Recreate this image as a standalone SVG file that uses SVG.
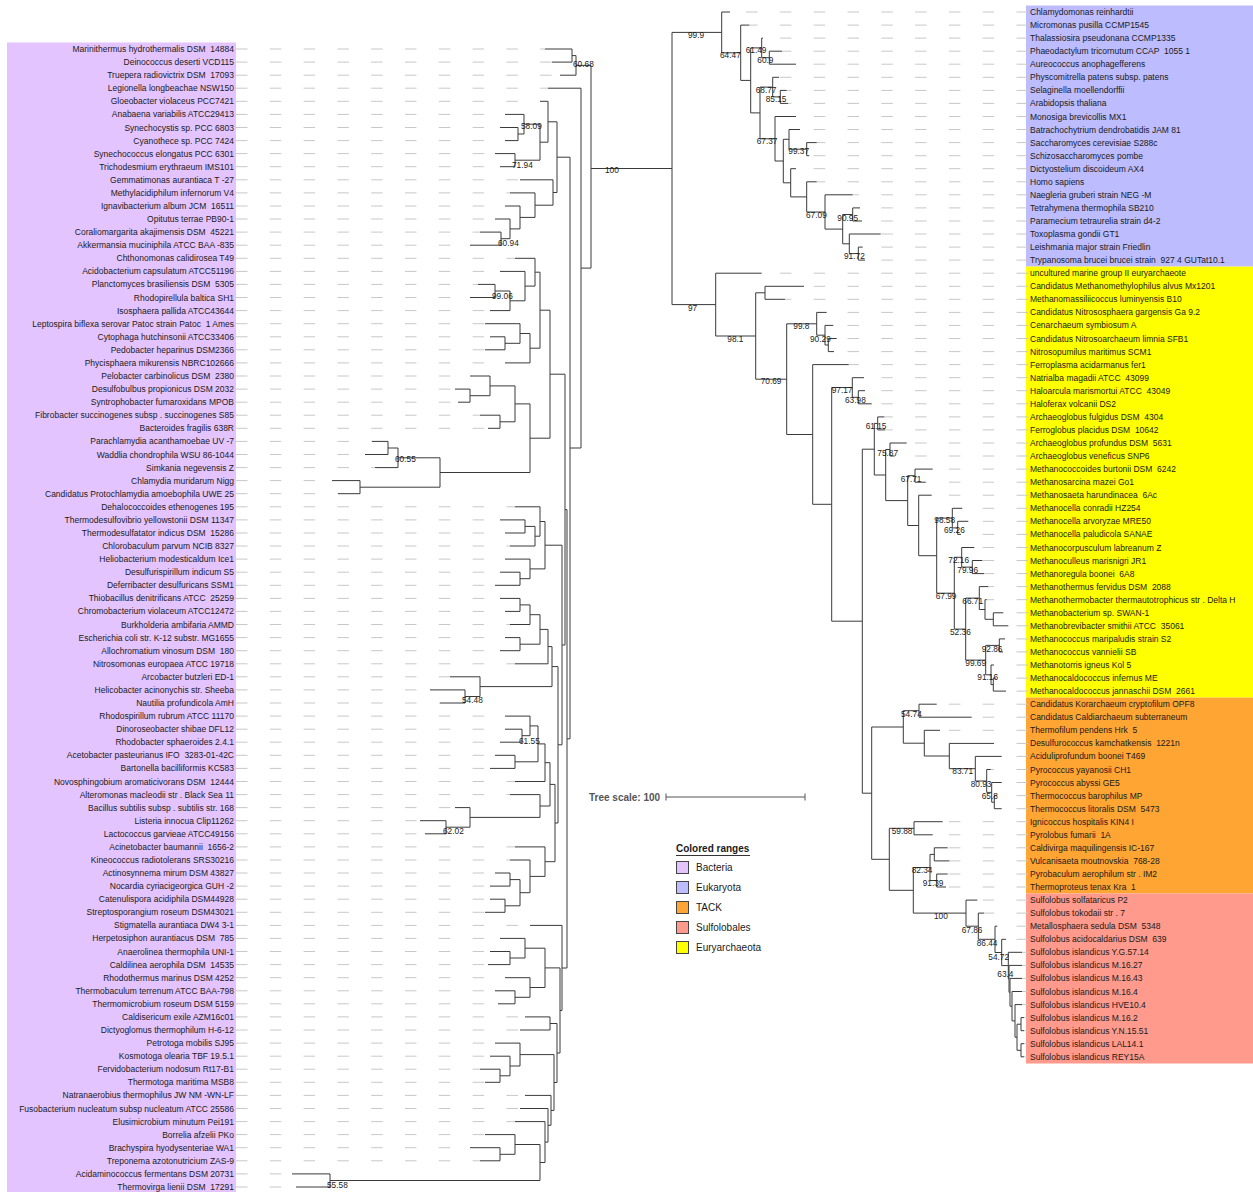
<svg xmlns="http://www.w3.org/2000/svg" width="1253" height="1192" viewBox="0 0 1253 1192">
<style>
.br{stroke:#3a3a3a;stroke-width:1;fill:none}
.ext{stroke:#c8c8c8;stroke-width:1;fill:none;stroke-dasharray:11.5 22.3}
text{font-family:"Liberation Sans",Arial,sans-serif;fill:#1a1a1a}
.lab text{font-size:8.5px;white-space:pre}
.l text{text-anchor:end}
.bs{font-size:8.3px;fill:#333}
.lg{font-size:10px}
.ttl{font-size:10px;font-weight:bold}
</style>
<rect width="1253" height="1192" fill="#fff"/>
<g id="ranges">
<rect x="7" y="42.5" width="229" height="1150" fill="#e4c4ff"/>
<rect x="1026" y="5.5" width="227" height="261.1" fill="#bcbcff"/>
<rect x="1026" y="266.6" width="227" height="431" fill="#ffff00"/>
<rect x="1026" y="697.6" width="227" height="195.9" fill="#ffa534"/>
<rect x="1026" y="893.5" width="227" height="170" fill="#ff9a8c"/>
</g>
<g id="connectors">
<path class="ext" d="M1028,12H730M1028,25.1H749.3M1028,38.1H763M1028,51.2H782M1028,64.2H796M1028,77.3H779M1028,90.4H786.7M1028,103.4H788M1028,116.5H796M1028,129.5H800M1028,142.6H816.7M1028,155.7H809.3M1028,168.7H796M1028,181.8H816.7M1028,194.8H852.7M1028,207.9H860M1028,221H862M1028,234H880.7M1028,247.1H862.7M1028,260.1H865M1028,273.2H761.7M1028,286.3H804M1028,299.3H785M1028,312.4H826.7M1028,325.4H833.3M1028,338.5H836.7M1028,351.6H834M1028,364.6H848.7M1028,377.7H864M1028,390.7H865M1028,403.8H871.7M1028,416.9H884.3M1028,429.9H885M1028,443H906.7M1028,456H894.7M1028,469.1H932.7M1028,482.2H925.7M1028,495.2H931.7M1028,508.3H962.3M1028,521.3H968.3M1028,534.4H961M1028,547.5H974.3M1028,560.5H982.3M1028,573.6H984M1028,586.6H988.3M1028,599.7H986.7M1028,612.8H1003.3M1028,625.8H1008.3M1028,638.9H1005M1028,651.9H1003M1028,665H994M1028,678.1H996M1028,691.1H1006M1028,704.2H936.7M1028,717.2H971.7M1028,730.3H940M1028,743.4H994M1028,756.4H1001.7M1028,769.5H990.7M1028,782.5H1001.7M1028,795.6H997M1028,808.7H1001.7M1028,821.7H942.7M1028,834.8H932.7M1028,847.8H947.7M1028,860.9H949.3M1028,874H947.7M1028,887H946M1028,900.1H977.3M1028,913.1H984M1028,926.2H997.3M1028,939.3H1006M1028,952.3H1022M1028,965.4H1022M1028,978.4H1022M1028,991.5H1022M1028,1004.6H1022M1028,1017.6H1024M1028,1030.7H1024M1028,1043.7H1024M1028,1056.8H1024"/>
<path class="br" d="M591,168.5H672M672,32.4V304.6M672,32.4H721.7M672,304.6H715.7
M721.7,12V52.8M721.7,12H730M721.7,52.8H740.7
M740.7,25.1V80.4M740.7,25.1H749.3M740.7,80.4H750.7
M750.7,47.9V112.9M750.7,47.9H761.7M750.7,112.9H760
M761.7,38.1V57.7M761.7,38.1H763M761.7,57.7H769.3
M769.3,51.2V64.2M769.3,51.2H782M769.3,64.2H796
M760,87.1V138.8M760,87.1H772.7M760,138.8H775
M772.7,77.3V96.9M772.7,77.3H779M772.7,96.9H780.3
M780.3,90.4V103.4M780.3,90.4H786.7M780.3,103.4H788
M775,116.5V161M775,116.5H796M775,161H783.3
M783.3,139.3V182.8M783.3,139.3H789M783.3,182.8H790.7
M789,129.5V149.2M789,129.5H800M789,149.2H806.7
M806.7,142.6V155.7M806.7,142.6H816.7M806.7,155.7H809.3
M790.7,168.7V196.9M790.7,168.7H796M790.7,196.9H806.7
M806.7,181.8V212M806.7,181.8H816.7M806.7,212H825
M825,194.8V229.1M825,194.8H852.7M825,229.1H842.7
M842.7,214.5V243.8M842.7,214.5H852.7M842.7,243.8H849.3
M852.7,207.9V221M852.7,207.9H860M852.7,221H862
M849.3,234V253.6M849.3,234H880.7M849.3,253.6H858.3
M858.3,247.1V260.1M858.3,247.1H862.7M858.3,260.1H865
M715.7,273.2V336M715.7,273.2H761.7M715.7,336H755.7
M755.7,292.8V379.2M755.7,292.8H765M755.7,379.2H786.7
M765,286.3V299.3M765,286.3H804M765,299.3H785
M786.7,323.8V434.5M786.7,323.8H816.7M786.7,434.5H812.7
M816.7,312.4V335.2M816.7,312.4H826.7M816.7,335.2H825
M825,325.4V345M825,325.4H833.3M825,345H828.3
M828.3,338.5V351.6M828.3,338.5H836.7M828.3,351.6H834
M812.7,364.6V504.3M812.7,364.6H848.7M812.7,504.3H831.7
M831.7,387.5V621.2M831.7,387.5H852.3M831.7,621.2H862.3
M852.3,377.7V397.3M852.3,377.7H864M852.3,397.3H858.3
M858.3,390.7V403.8M858.3,390.7H865M858.3,403.8H871.7
M862.3,449.2V793.2M862.3,449.2H874.3M862.3,793.2H871.7
M874.3,423.4V475M874.3,423.4H877.7M874.3,475H885.7
M877.7,416.9V429.9M877.7,416.9H884.3M877.7,429.9H885
M885.7,449.5V500.6M885.7,449.5H890M885.7,500.6H907.7
M890,443V456M890,443H906.7M890,456H894.7
M907.7,475.7V525.5M907.7,475.7H915M907.7,525.5H918.7
M915,469.1V482.2M915,469.1H932.7M915,482.2H925.7
M918.7,495.2V555.7M918.7,495.2H931.7M918.7,555.7H936.7
M936.7,518.1V593.2M936.7,518.1H952.3M936.7,593.2H954.3
M952.3,508.3V527.9M952.3,508.3H962.3M952.3,527.9H957.7
M957.7,521.3V534.4M957.7,521.3H968.3M957.7,534.4H961
M954.3,557.3V629.1M954.3,557.3H961.7M954.3,629.1H965.7
M961.7,547.5V567.1M961.7,547.5H974.3M961.7,567.1H972.3
M972.3,560.5V573.6M972.3,560.5H982.3M972.3,573.6H984
M965.7,598.1V660.1M965.7,598.1H979.3M965.7,660.1H985.7
M979.3,586.6V609.5M979.3,586.6H988.3M979.3,609.5H985
M985,599.7V619.3M985,599.7H986.7M985,619.3H993.3
M993.3,612.8V625.8M993.3,612.8H1003.3M993.3,625.8H1008.3
M985.7,645.4V674.8M985.7,645.4H999.3M985.7,674.8H991
M999.3,638.9V651.9M999.3,638.9H1005M999.3,651.9H1003
M991,665V684.6M991,665H994M991,684.6H993.3
M993.3,678.1V691.1M993.3,678.1H996M993.3,691.1H1006
M871.7,727V859.3M871.7,727H903.3M871.7,859.3H889.3
M903.3,710.7V743.2M903.3,710.7H919M903.3,743.2H924.3
M919,704.2V717.2M919,704.2H936.7M919,717.2H971.7
M924.3,730.3V756M924.3,730.3H940M924.3,756H949.3
M949.3,743.4V768.7M949.3,743.4H994M949.3,768.7H975.3
M975.3,756.4V781M975.3,756.4H1001.7M975.3,781H986.7
M986.7,769.5V792.4M986.7,769.5H990.7M986.7,792.4H991.7
M991.7,782.5V802.2M991.7,782.5H1001.7M991.7,802.2H994.3
M994.3,795.6V808.7M994.3,795.6H997M994.3,808.7H1001.7
M889.3,828.3V890.3M889.3,828.3H914M889.3,890.3H913.3
M914,821.7V834.8M914,821.7H942.7M914,834.8H932.7
M913.3,867.5V913.1M913.3,867.5H930M913.3,913.1H966
M930,854.4V880.5M930,854.4H934.3M930,880.5H936.7
M934.3,847.8V860.9M934.3,847.8H947.7M934.3,860.9H949.3
M936.7,874V887M936.7,874H947.7M936.7,887H946
M966,900.1V926.2M966,900.1H977.3M966,926.2H978.3
M978.3,913.1V939.3M978.3,913.1H984M978.3,939.3H995
M995,926.2V952.5M995,926.2H997.3M995,952.5H1001.7
M1001.7,939.3V965.6M1001.7,939.3H1006M1001.7,965.6H1008.3
M1008.3,952.3V978.9M1008.3,952.3H1022M1008.3,978.9H1009
M1009,965.4V992.3M1009,965.4H1022M1009,992.3H1010
M1010,978.4V1006.2M1010,978.4H1022M1010,1006.2H1012
M1012,991.5V1020.9M1012,991.5H1022M1012,1020.9H1015
M1015,1004.6V1037.2M1015,1004.6H1022M1015,1037.2H1017
M1017,1024.2V1050.3M1017,1024.2H1021M1017,1050.3H1021
M1021,1017.6V1030.7M1021,1017.6H1024M1021,1030.7H1024
M1021,1043.7V1056.8M1021,1043.7H1024M1021,1056.8H1024"/>
<path class="ext" d="M236,49H545M236,62.1H552M236,75.2H560M236,88.2H548M236,101.3H540M236,114.4H505M236,127.5H500M236,140.6H505M236,153.6H495M236,166.7H500M236,179.8H520M236,192.9H510M236,206H505M236,219H495M236,232.1H480M236,245.2H470M236,258.3H515M236,271.4H500M236,284.4H478M236,297.5H470M236,310.6H490M236,323.7H485M236,336.8H490M236,349.8H485M236,362.9H505M236,376H470M236,389.1H455M236,402.2H458M236,415.2H480M236,428.3H488M236,441.4H372M236,454.5H365M236,467.6H375M236,480.6H332M236,493.7H338M236,506.8H515M236,519.9H500M236,533H505M236,546H510M236,559.1H505M236,572.2H500M236,585.3H495M236,598.4H500M236,611.4H505M236,624.5H510M236,637.6H505M236,650.7H500M236,663.8H515M236,676.8H450M236,689.9H430M236,703H440M236,716.1H505M236,729.2H505M236,742.2H500M236,755.3H495M236,768.4H490M236,781.5H515M236,794.6H510M236,807.6H455M236,820.7H420M236,833.8H425M236,846.9H515M236,860H510M236,873H495M236,886.1H490M236,899.2H490M236,912.3H485M236,925.4H530M236,938.4H500M236,951.5H490M236,964.6H488M236,977.7H505M236,990.8H495M236,1003.8H498M236,1016.9H525M236,1030H520M236,1043.1H495M236,1056.2H490M236,1069.2H480M236,1082.3H485M236,1095.4H525M236,1108.5H520M236,1121.6H515M236,1134.6H485M236,1147.7H470M236,1160.8H480M236,1173.9H292M236,1187H296"/>
<path class="br" d="M591,65.4V268.1M591,65.4H576M591,268.1H581
M576,55.6V75.2M576,55.6H572M576,75.2H560
M572,49V62.1M572,49H545M572,62.1H552
M581,88.2V448M581,88.2H548M581,448H570
M570,157.2V738.8M570,157.2H557M570,738.8H567
M557,121.8V192.5M557,121.8H548M557,192.5H553
M548,101.3V142.2M548,101.3H540M548,142.2H540
M540,124.2V160.2M540,124.2H524M540,160.2H515
M524,114.4V134M524,114.4H505M524,134H518
M518,127.5V140.6M518,127.5H500M518,140.6H505
M515,153.6V166.7M515,153.6H495M515,166.7H500
M553,179.8V205.2M553,179.8H520M553,205.2H535
M535,192.9V217.4M535,192.9H510M535,217.4H520
M520,206V228.9M520,206H505M520,228.9H510
M510,219V238.7M510,219H495M510,238.7H501
M501,232.1V245.2M501,232.1H480M501,245.2H470
M567,509.6V968M567,509.6H565M567,968H562
M565,374.2V645M565,374.2H550M565,645H562
M550,310.2V438.2M550,310.2H540M550,438.2H530
M540,272.2V348.2M540,272.2H535M540,348.2H530
M535,258.3V286.1M535,258.3H515M535,286.1H525
M525,271.4V300.8M525,271.4H500M525,300.8H510
M510,291V310.6M510,291H495M510,310.6H490
M495,284.4V297.5M495,284.4H478M495,297.5H470
M530,333.5V362.9M530,333.5H520M530,362.9H505
M520,323.7V343.3M520,323.7H485M520,343.3H505
M505,336.8V349.8M505,336.8H490M505,349.8H485
M530,403.9V472.5M530,403.9H515M530,472.5H440
M515,385.9V421.8M515,385.9H490M515,421.8H500
M490,376V395.7M490,376H470M490,395.7H470
M470,389.1V402.2M470,389.1H455M470,402.2H458
M500,415.2V428.3M500,415.2H480M500,428.3H488
M440,457.8V487.2M440,457.8H398M440,487.2H360
M398,448V467.6M398,448H388M398,467.6H375
M388,441.4V454.5M388,441.4H372M388,454.5H365
M360,480.6V493.7M360,480.6H332M360,493.7H338
M562,545.2V744.8M562,545.2H545M562,744.8H558
M545,521.5V568.9M545,521.5H540M545,568.9H530
M540,506.8V536.2M540,506.8H515M540,536.2H535
M535,526.4V546M535,526.4H525M535,546H510
M525,519.9V533M525,519.9H500M525,533H505
M530,559.1V578.7M530,559.1H505M530,578.7H520
M520,572.2V585.3M520,572.2H500M520,585.3H495
M558,666.6V823M558,666.6H552M558,823H555
M552,646.6V686.6M552,646.6H548M552,686.6H480
M548,629.4V663.8M548,629.4H540M548,663.8H515
M540,614.7V644.2M540,614.7H530M540,644.2H520
M530,604.9V624.5M530,604.9H520M530,624.5H510
M520,598.4V611.4M520,598.4H500M520,611.4H505
M520,637.6V650.7M520,637.6H505M520,650.7H500
M480,676.8V696.5M480,676.8H450M480,696.5H465
M465,689.9V703M465,689.9H430M465,703H440
M555,784.4V861.7M555,784.4H550M555,861.7H545
M550,762.7V806M550,762.7H545M550,806H540
M545,743.9V781.5M545,743.9H538M545,781.5H515
M538,725.9V761.8M538,725.9H530M538,761.8H515
M530,716.1V735.7M530,716.1H505M530,735.7H522
M522,729.2V742.2M522,729.2H505M522,742.2H500
M515,755.3V768.4M515,755.3H495M515,768.4H490
M540,794.6V817.4M540,794.6H510M540,817.4H470
M470,807.6V827.2M470,807.6H455M470,827.2H446
M446,820.7V833.8M446,820.7H420M446,833.8H425
M545,846.9V876.4M545,846.9H515M545,876.4H530
M530,860V892.7M530,860H510M530,892.7H520
M520,879.6V905.8M520,879.6H510M520,905.8H505
M510,873V886.1M510,873H495M510,886.1H490
M505,899.2V912.3M505,899.2H490M505,912.3H485
M562,925.4V1010.5M562,925.4H530M562,1010.5H560
M560,967.9V1053M560,967.9H545M560,1053H557
M545,948.2V987.5M545,948.2H525M545,987.5H530
M525,938.4V958M525,938.4H500M525,958H510
M510,951.5V964.6M510,951.5H490M510,964.6H488
M530,977.7V997.3M530,977.7H505M530,997.3H515
M515,990.8V1003.8M515,990.8H495M515,1003.8H498
M557,1023.5V1082.5M557,1023.5H550M557,1082.5H554
M550,1016.9V1030M550,1016.9H525M550,1030H520
M554,1054.6V1110.4M554,1054.6H520M554,1110.4H551
M520,1043.1V1066M520,1043.1H495M520,1066H510
M510,1056.2V1075.8M510,1056.2H490M510,1075.8H500
M500,1069.2V1082.3M500,1069.2H480M500,1082.3H485
M551,1095.4V1125.3M551,1095.4H525M551,1125.3H548
M548,1108.5V1142.1M548,1108.5H520M548,1142.1H545
M545,1121.6V1162.5M545,1121.6H515M545,1162.5H540
M540,1144.5V1180.5M540,1144.5H515M540,1180.5H330
M515,1134.6V1154.3M515,1134.6H485M515,1154.3H500
M500,1147.7V1160.8M500,1147.7H470M500,1160.8H480
M330,1173.9V1187M330,1173.9H292M330,1187H296"/>
</g>
<g id="bootstrap" class="bs">
<text x="605" y="173.3">100</text>
<text x="688" y="37.5">99.9</text><text x="720" y="58">64.47</text><text x="745.7" y="53.3">61.49</text><text x="757.3" y="63.3">60.9</text>
<text x="755.7" y="93">68.77</text><text x="765.7" y="102">85.15</text><text x="756.7" y="144.3">67.37</text><text x="788.3" y="154.3">99.37</text>
<text x="806" y="217.5">67.09</text><text x="837.3" y="220.7">90.95</text><text x="844" y="259.3">91.72</text>
<text x="688" y="310.5">97</text><text x="727.3" y="342.3">98.1</text><text x="793.3" y="329.3">99.8</text><text x="810" y="342.3">90.29</text>
<text x="760.7" y="384.3">70.69</text><text x="831.7" y="393.3">97.17</text><text x="845" y="403.3">63.98</text><text x="865.7" y="429.3">61.15</text>
<text x="877.3" y="456">75.87</text><text x="900.7" y="482">67.71</text><text x="934.3" y="523.3">98.58</text><text x="944" y="533.3">69.26</text>
<text x="948.3" y="563.3">72.16</text><text x="957.3" y="573.3">79.96</text><text x="935.7" y="599.3">67.99</text><text x="962.3" y="604.3">66.71</text>
<text x="950" y="635">52.36</text><text x="981.7" y="651.7">92.86</text><text x="965.3" y="666">99.69</text><text x="977.3" y="680">91.16</text>
<text x="901" y="716.7">54.74</text><text x="952.3" y="774.3">83.71</text><text x="970.7" y="786.7">80.93</text><text x="981.7" y="799">65.8</text>
<text x="891.7" y="834.3">59.88</text><text x="911.7" y="872.7">82.34</text><text x="922.7" y="886">91.39</text><text x="934" y="919.3">100</text>
<text x="961.7" y="932.7">67.86</text><text x="976.7" y="946">86.44</text><text x="988.3" y="960">54.72</text><text x="997.3" y="976.7">63.4</text>
<text x="573" y="67">60.68</text><text x="521" y="129">58.09</text><text x="512" y="168">71.94</text><text x="498" y="246">60.94</text>
<text x="492" y="299">99.06</text><text x="395" y="462">60.55</text><text x="462" y="703">54.48</text><text x="519" y="744">61.55</text>
<text x="443" y="834">62.02</text><text x="327" y="1188">55.58</text>
</g>
<g id="leaves-right" class="lab" xml:space="preserve">
<g id="R1"><text x="1030" y="15">Chlamydomonas reinhardtii</text></g>
<g id="R2"><text x="1030" y="28.1">Micromonas pusilla CCMP1545</text></g>
<g id="R3"><text x="1030" y="41.1">Thalassiosira pseudonana CCMP1335</text></g>
<g id="R4"><text x="1030" y="54.2">Phaeodactylum tricornutum CCAP  1055 1</text></g>
<g id="R5"><text x="1030" y="67.2">Aureococcus anophagefferens</text></g>
<g id="R6"><text x="1030" y="80.3">Physcomitrella patens subsp. patens</text></g>
<g id="R7"><text x="1030" y="93.4">Selaginella moellendorffii</text></g>
<g id="R8"><text x="1030" y="106.4">Arabidopsis thaliana</text></g>
<g id="R9"><text x="1030" y="119.5">Monosiga brevicollis MX1</text></g>
<g id="R10"><text x="1030" y="132.5">Batrachochytrium dendrobatidis JAM 81</text></g>
<g id="R11"><text x="1030" y="145.6">Saccharomyces cerevisiae S288c</text></g>
<g id="R12"><text x="1030" y="158.7">Schizosaccharomyces pombe</text></g>
<g id="R13"><text x="1030" y="171.7">Dictyostelium discoideum AX4</text></g>
<g id="R14"><text x="1030" y="184.8">Homo sapiens</text></g>
<g id="R15"><text x="1030" y="197.8">Naegleria gruberi strain NEG -M</text></g>
<g id="R16"><text x="1030" y="210.9">Tetrahymena thermophila SB210</text></g>
<g id="R17"><text x="1030" y="224">Paramecium tetraurelia strain d4-2</text></g>
<g id="R18"><text x="1030" y="237">Toxoplasma gondii GT1</text></g>
<g id="R19"><text x="1030" y="250.1">Leishmania major strain Friedlin</text></g>
<g id="R20"><text x="1030" y="263.1">Trypanosoma brucei brucei strain  927 4 GUTat10.1</text></g>
<g id="R21"><text x="1030" y="276.2">uncultured marine group II euryarchaeote</text></g>
<g id="R22"><text x="1030" y="289.3">Candidatus Methanomethylophilus alvus Mx1201</text></g>
<g id="R23"><text x="1030" y="302.3">Methanomassiliicoccus luminyensis B10</text></g>
<g id="R24"><text x="1030" y="315.4">Candidatus Nitrososphaera gargensis Ga 9.2</text></g>
<g id="R25"><text x="1030" y="328.4">Cenarchaeum symbiosum A</text></g>
<g id="R26"><text x="1030" y="341.5">Candidatus Nitrosoarchaeum limnia SFB1</text></g>
<g id="R27"><text x="1030" y="354.6">Nitrosopumilus maritimus SCM1</text></g>
<g id="R28"><text x="1030" y="367.6">Ferroplasma acidarmanus fer1</text></g>
<g id="R29"><text x="1030" y="380.7">Natrialba magadii ATCC  43099</text></g>
<g id="R30"><text x="1030" y="393.7">Haloarcula marismortui ATCC  43049</text></g>
<g id="R31"><text x="1030" y="406.8">Haloferax volcanii DS2</text></g>
<g id="R32"><text x="1030" y="419.9">Archaeoglobus fulgidus DSM  4304</text></g>
<g id="R33"><text x="1030" y="432.9">Ferroglobus placidus DSM  10642</text></g>
<g id="R34"><text x="1030" y="446">Archaeoglobus profundus DSM  5631</text></g>
<g id="R35"><text x="1030" y="459">Archaeoglobus veneficus SNP6</text></g>
<g id="R36"><text x="1030" y="472.1">Methanococcoides burtonii DSM  6242</text></g>
<g id="R37"><text x="1030" y="485.2">Methanosarcina mazei Go1</text></g>
<g id="R38"><text x="1030" y="498.2">Methanosaeta harundinacea  6Ac</text></g>
<g id="R39"><text x="1030" y="511.3">Methanocella conradii HZ254</text></g>
<g id="R40"><text x="1030" y="524.3">Methanocella arvoryzae MRE50</text></g>
<g id="R41"><text x="1030" y="537.4">Methanocella paludicola SANAE</text></g>
<g id="R42"><text x="1030" y="550.5">Methanocorpusculum labreanum Z</text></g>
<g id="R43"><text x="1030" y="563.5">Methanoculleus marisnigri JR1</text></g>
<g id="R44"><text x="1030" y="576.6">Methanoregula boonei  6A8</text></g>
<g id="R45"><text x="1030" y="589.6">Methanothermus fervidus DSM  2088</text></g>
<g id="R46"><text x="1030" y="602.7">Methanothermobacter thermautotrophicus str . Delta H</text></g>
<g id="R47"><text x="1030" y="615.8">Methanobacterium sp. SWAN-1</text></g>
<g id="R48"><text x="1030" y="628.8">Methanobrevibacter smithii ATCC  35061</text></g>
<g id="R49"><text x="1030" y="641.9">Methanococcus maripaludis strain S2</text></g>
<g id="R50"><text x="1030" y="654.9">Methanococcus vannielii SB</text></g>
<g id="R51"><text x="1030" y="668">Methanotorris igneus Kol 5</text></g>
<g id="R52"><text x="1030" y="681.1">Methanocaldococcus infernus ME</text></g>
<g id="R53"><text x="1030" y="694.1">Methanocaldococcus jannaschii DSM  2661</text></g>
<g id="R54"><text x="1030" y="707.2">Candidatus Korarchaeum cryptofilum OPF8</text></g>
<g id="R55"><text x="1030" y="720.2">Candidatus Caldiarchaeum subterraneum</text></g>
<g id="R56"><text x="1030" y="733.3">Thermofilum pendens Hrk  5</text></g>
<g id="R57"><text x="1030" y="746.4">Desulfurococcus kamchatkensis  1221n</text></g>
<g id="R58"><text x="1030" y="759.4">Aciduliprofundum boonei T469</text></g>
<g id="R59"><text x="1030" y="772.5">Pyrococcus yayanosii CH1</text></g>
<g id="R60"><text x="1030" y="785.5">Pyrococcus abyssi GE5</text></g>
<g id="R61"><text x="1030" y="798.6">Thermococcus barophilus MP</text></g>
<g id="R62"><text x="1030" y="811.7">Thermococcus litoralis DSM  5473</text></g>
<g id="R63"><text x="1030" y="824.7">Ignicoccus hospitalis KIN4 I</text></g>
<g id="R64"><text x="1030" y="837.8">Pyrolobus fumarii  1A</text></g>
<g id="R65"><text x="1030" y="850.8">Caldivirga maquilingensis IC-167</text></g>
<g id="R66"><text x="1030" y="863.9">Vulcanisaeta moutnovskia  768-28</text></g>
<g id="R67"><text x="1030" y="877">Pyrobaculum aerophilum str . IM2</text></g>
<g id="R68"><text x="1030" y="890">Thermoproteus tenax Kra  1</text></g>
<g id="R69"><text x="1030" y="903.1">Sulfolobus solfataricus P2</text></g>
<g id="R70"><text x="1030" y="916.1">Sulfolobus tokodaii str . 7</text></g>
<g id="R71"><text x="1030" y="929.2">Metallosphaera sedula DSM  5348</text></g>
<g id="R72"><text x="1030" y="942.3">Sulfolobus acidocaldarius DSM  639</text></g>
<g id="R73"><text x="1030" y="955.3">Sulfolobus islandicus Y.G.57.14</text></g>
<g id="R74"><text x="1030" y="968.4">Sulfolobus islandicus M.16.27</text></g>
<g id="R75"><text x="1030" y="981.4">Sulfolobus islandicus M.16.43</text></g>
<g id="R76"><text x="1030" y="994.5">Sulfolobus islandicus M.16.4</text></g>
<g id="R77"><text x="1030" y="1007.6">Sulfolobus islandicus HVE10.4</text></g>
<g id="R78"><text x="1030" y="1020.6">Sulfolobus islandicus M.16.2</text></g>
<g id="R79"><text x="1030" y="1033.7">Sulfolobus islandicus Y.N.15.51</text></g>
<g id="R80"><text x="1030" y="1046.7">Sulfolobus islandicus LAL14.1</text></g>
<g id="R81"><text x="1030" y="1059.8">Sulfolobus islandicus REY15A</text></g>
</g>
<g id="leaves-left" class="lab l" xml:space="preserve">
<g id="L1"><text x="234" y="52">Marinithermus hydrothermalis DSM  14884</text></g>
<g id="L2"><text x="234" y="65.1">Deinococcus deserti VCD115</text></g>
<g id="L3"><text x="234" y="78.2">Truepera radiovictrix DSM  17093</text></g>
<g id="L4"><text x="234" y="91.2">Legionella longbeachae NSW150</text></g>
<g id="L5"><text x="234" y="104.3">Gloeobacter violaceus PCC7421</text></g>
<g id="L6"><text x="234" y="117.4">Anabaena variabilis ATCC29413</text></g>
<g id="L7"><text x="234" y="130.5">Synechocystis sp. PCC 6803</text></g>
<g id="L8"><text x="234" y="143.6">Cyanothece sp. PCC 7424</text></g>
<g id="L9"><text x="234" y="156.6">Synechococcus elongatus PCC 6301</text></g>
<g id="L10"><text x="234" y="169.7">Trichodesmium erythraeum IMS101</text></g>
<g id="L11"><text x="234" y="182.8">Gemmatimonas aurantiaca T -27</text></g>
<g id="L12"><text x="234" y="195.9">Methylacidiphilum infernorum V4</text></g>
<g id="L13"><text x="234" y="209">Ignavibacterium album JCM  16511</text></g>
<g id="L14"><text x="234" y="222">Opitutus terrae PB90-1</text></g>
<g id="L15"><text x="234" y="235.1">Coraliomargarita akajimensis DSM  45221</text></g>
<g id="L16"><text x="234" y="248.2">Akkermansia muciniphila ATCC BAA -835</text></g>
<g id="L17"><text x="234" y="261.3">Chthonomonas calidirosea T49</text></g>
<g id="L18"><text x="234" y="274.4">Acidobacterium capsulatum ATCC51196</text></g>
<g id="L19"><text x="234" y="287.4">Planctomyces brasiliensis DSM  5305</text></g>
<g id="L20"><text x="234" y="300.5">Rhodopirellula baltica SH1</text></g>
<g id="L21"><text x="234" y="313.6">Isosphaera pallida ATCC43644</text></g>
<g id="L22"><text x="234" y="326.7">Leptospira biflexa serovar Patoc strain Patoc  1 Ames</text></g>
<g id="L23"><text x="234" y="339.8">Cytophaga hutchinsonii ATCC33406</text></g>
<g id="L24"><text x="234" y="352.8">Pedobacter heparinus DSM2366</text></g>
<g id="L25"><text x="234" y="365.9">Phycisphaera mikurensis NBRC102666</text></g>
<g id="L26"><text x="234" y="379">Pelobacter carbinolicus DSM  2380</text></g>
<g id="L27"><text x="234" y="392.1">Desulfobulbus propionicus DSM 2032</text></g>
<g id="L28"><text x="234" y="405.2">Syntrophobacter fumaroxidans MPOB</text></g>
<g id="L29"><text x="234" y="418.2">Fibrobacter succinogenes subsp . succinogenes S85</text></g>
<g id="L30"><text x="234" y="431.3">Bacteroides fragilis 638R</text></g>
<g id="L31"><text x="234" y="444.4">Parachlamydia acanthamoebae UV -7</text></g>
<g id="L32"><text x="234" y="457.5">Waddlia chondrophila WSU 86-1044</text></g>
<g id="L33"><text x="234" y="470.6">Simkania negevensis Z</text></g>
<g id="L34"><text x="234" y="483.6">Chlamydia muridarum Nigg</text></g>
<g id="L35"><text x="234" y="496.7">Candidatus Protochlamydia amoebophila UWE 25</text></g>
<g id="L36"><text x="234" y="509.8">Dehalococcoides ethenogenes 195</text></g>
<g id="L37"><text x="234" y="522.9">Thermodesulfovibrio yellowstonii DSM 11347</text></g>
<g id="L38"><text x="234" y="536">Thermodesulfatator indicus DSM  15286</text></g>
<g id="L39"><text x="234" y="549">Chlorobaculum parvum NCIB 8327</text></g>
<g id="L40"><text x="234" y="562.1">Heliobacterium modesticaldum Ice1</text></g>
<g id="L41"><text x="234" y="575.2">Desulfurispirillum indicum S5</text></g>
<g id="L42"><text x="234" y="588.3">Deferribacter desulfuricans SSM1</text></g>
<g id="L43"><text x="234" y="601.4">Thiobacillus denitrificans ATCC  25259</text></g>
<g id="L44"><text x="234" y="614.4">Chromobacterium violaceum ATCC12472</text></g>
<g id="L45"><text x="234" y="627.5">Burkholderia ambifaria AMMD</text></g>
<g id="L46"><text x="234" y="640.6">Escherichia coli str. K-12 substr. MG1655</text></g>
<g id="L47"><text x="234" y="653.7">Allochromatium vinosum DSM  180</text></g>
<g id="L48"><text x="234" y="666.8">Nitrosomonas europaea ATCC 19718</text></g>
<g id="L49"><text x="234" y="679.8">Arcobacter butzleri ED-1</text></g>
<g id="L50"><text x="234" y="692.9">Helicobacter acinonychis str. Sheeba</text></g>
<g id="L51"><text x="234" y="706">Nautilia profundicola AmH</text></g>
<g id="L52"><text x="234" y="719.1">Rhodospirillum rubrum ATCC 11170</text></g>
<g id="L53"><text x="234" y="732.2">Dinoroseobacter shibae DFL12</text></g>
<g id="L54"><text x="234" y="745.2">Rhodobacter sphaeroides 2.4.1</text></g>
<g id="L55"><text x="234" y="758.3">Acetobacter pasteurianus IFO  3283-01-42C</text></g>
<g id="L56"><text x="234" y="771.4">Bartonella bacilliformis KC583</text></g>
<g id="L57"><text x="234" y="784.5">Novosphingobium aromaticivorans DSM  12444</text></g>
<g id="L58"><text x="234" y="797.6">Alteromonas macleodii str . Black Sea 11</text></g>
<g id="L59"><text x="234" y="810.6">Bacillus subtilis subsp . subtilis str. 168</text></g>
<g id="L60"><text x="234" y="823.7">Listeria innocua Clip11262</text></g>
<g id="L61"><text x="234" y="836.8">Lactococcus garvieae ATCC49156</text></g>
<g id="L62"><text x="234" y="849.9">Acinetobacter baumannii  1656-2</text></g>
<g id="L63"><text x="234" y="863">Kineococcus radiotolerans SRS30216</text></g>
<g id="L64"><text x="234" y="876">Actinosynnema mirum DSM 43827</text></g>
<g id="L65"><text x="234" y="889.1">Nocardia cyriacigeorgica GUH -2</text></g>
<g id="L66"><text x="234" y="902.2">Catenulispora acidiphila DSM44928</text></g>
<g id="L67"><text x="234" y="915.3">Streptosporangium roseum DSM43021</text></g>
<g id="L68"><text x="234" y="928.4">Stigmatella aurantiaca DW4 3-1</text></g>
<g id="L69"><text x="234" y="941.4">Herpetosiphon aurantiacus DSM  785</text></g>
<g id="L70"><text x="234" y="954.5">Anaerolinea thermophila UNI-1</text></g>
<g id="L71"><text x="234" y="967.6">Caldilinea aerophila DSM  14535</text></g>
<g id="L72"><text x="234" y="980.7">Rhodothermus marinus DSM 4252</text></g>
<g id="L73"><text x="234" y="993.8">Thermobaculum terrenum ATCC BAA-798</text></g>
<g id="L74"><text x="234" y="1006.8">Thermomicrobium roseum DSM 5159</text></g>
<g id="L75"><text x="234" y="1019.9">Caldisericum exile AZM16c01</text></g>
<g id="L76"><text x="234" y="1033">Dictyoglomus thermophilum H-6-12</text></g>
<g id="L77"><text x="234" y="1046.1">Petrotoga mobilis SJ95</text></g>
<g id="L78"><text x="234" y="1059.2">Kosmotoga olearia TBF 19.5.1</text></g>
<g id="L79"><text x="234" y="1072.2">Fervidobacterium nodosum Rt17-B1</text></g>
<g id="L80"><text x="234" y="1085.3">Thermotoga maritima MSB8</text></g>
<g id="L81"><text x="234" y="1098.4">Natranaerobius thermophilus JW NM -WN-LF</text></g>
<g id="L82"><text x="234" y="1111.5">Fusobacterium nucleatum subsp nucleatum ATCC 25586</text></g>
<g id="L83"><text x="234" y="1124.6">Elusimicrobium minutum Pei191</text></g>
<g id="L84"><text x="234" y="1137.6">Borrelia afzelii PKo</text></g>
<g id="L85"><text x="234" y="1150.7">Brachyspira hyodysenteriae WA1</text></g>
<g id="L86"><text x="234" y="1163.8">Treponema azotonutricium ZAS-9</text></g>
<g id="L87"><text x="234" y="1176.9">Acidaminococcus fermentans DSM 20731</text></g>
<g id="L88"><text x="234" y="1190">Thermovirga lienii DSM  17291</text></g>
</g>
<g id="scale">
<text class="ttl" x="589" y="801" style="fill:#555">Tree scale: 100</text>
<path d="M666,797H805M666,793.5V800.5M805,793.5V800.5" stroke="#555" fill="none"/>
</g>
<g id="legend">
<text class="ttl" x="676" y="852">Colored ranges</text>
<path d="M676,855.5H750" stroke="#333"/>
<g id="leg-bacteria"><rect x="676.5" y="861.5" width="12" height="12" fill="#e4c4ff" stroke="#444"/><text class="lg" x="696" y="871">Bacteria</text></g>
<g id="leg-eukaryota"><rect x="676.5" y="881.5" width="12" height="12" fill="#bcbcff" stroke="#444"/><text class="lg" x="696" y="891">Eukaryota</text></g>
<g id="leg-tack"><rect x="676.5" y="901.5" width="12" height="12" fill="#ffa534" stroke="#444"/><text class="lg" x="696" y="911">TACK</text></g>
<g id="leg-sulfolobales"><rect x="676.5" y="921.5" width="12" height="12" fill="#ff9a8c" stroke="#444"/><text class="lg" x="696" y="931">Sulfolobales</text></g>
<g id="leg-eury"><rect x="676.5" y="941.5" width="12" height="12" fill="#ffff00" stroke="#444"/><text class="lg" x="696" y="951">Euryarchaeota</text></g>
</g>
</svg>
